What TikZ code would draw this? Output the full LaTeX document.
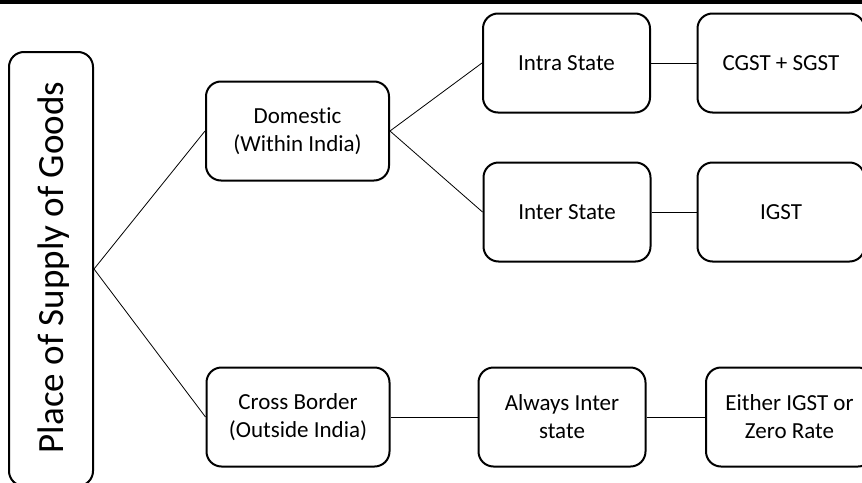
\documentclass[tikz,border=0pt]{standalone}
\usepackage{fontspec}
\setmainfont{Carlito}[Ligatures={NoCommon}]
\begin{document}
\begin{tikzpicture}[x=1pt,y=-1pt,
  box/.style={draw=black, line width=2pt, rounded corners=15pt, inner sep=0pt,
    align=center, font=\fontsize{23}{28}\selectfont},
  wide/.style={box, minimum width=183pt, minimum height=99pt},
  std/.style={box, minimum width=167pt, minimum height=99pt},
  link/.style={draw=black, line width=0.8pt}]
\useasboundingbox (0,0) rectangle (862,482);
\clip (0,0) rectangle (862,482);
% rule along the top edge
\fill[black] (0,0) rectangle (862,3.5);

% root box and its vertical title
\node[box, minimum width=84pt, minimum height=434pt] (root) at (51,269) {};
\node[rotate=90, anchor=base, inner sep=0pt, font=\fontsize{37}{44}\selectfont]
  (title) at (63,267.5) {Place of Supply of Goods};

% first level
\node[wide] (dom) at (297.5,131) {Domestic\\(Within India)};
\node[wide] (cross) at (298,417) {Cross Border\\(Outside India)};

% domestic branch
\node[std] (intra) at (566.5,63) {Intra State};
\node[std] (cgst) at (781,63) {CGST + SGST};
\node[std] (inter) at (567,212) {Inter State};
\node[std] (igst) at (781,212) {IGST};

% cross-border branch
\node[std] (always) at (562,417) {Always Inter\\state};
\node[std] (either) at (789.5,417) {Either IGST or\\Zero Rate};

% connectors
\draw[link] (root.east) -- (dom.west);
\draw[link] (root.east) -- (cross.west);
\draw[link] (dom.east) -- (intra.west);
\draw[link] (dom.east) -- (inter.west);
\draw[link] (intra.east) -- (cgst.west);
\draw[link] (inter.east) -- (igst.west);
\draw[link] (cross.east) -- (always.west);
\draw[link] (always.east) -- (either.west);
\end{tikzpicture}
\end{document}
